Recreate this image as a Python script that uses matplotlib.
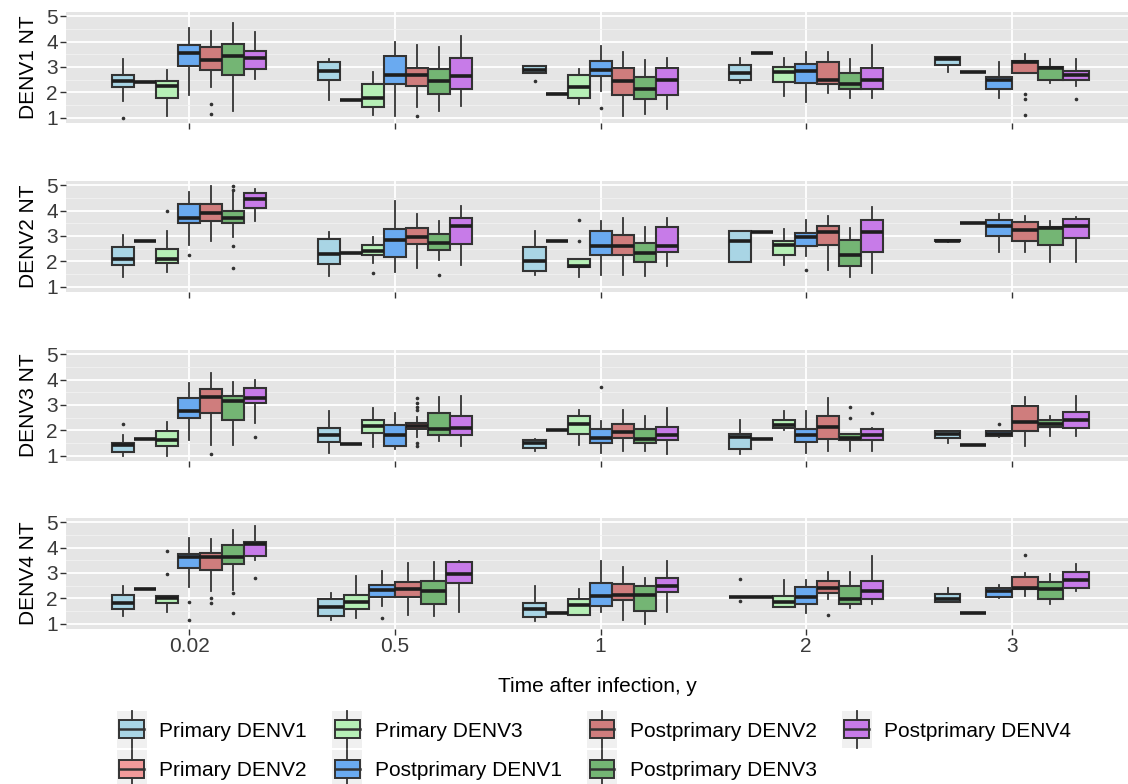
import numpy as np
import matplotlib
matplotlib.use('Agg')
import matplotlib.pyplot as plt
from matplotlib.legend_handler import HandlerBase
from matplotlib.patches import Rectangle, Patch
from matplotlib.lines import Line2D

plt.rcParams['font.family'] = ['Liberation Sans', 'DejaVu Sans']

times = ['0.02', '0.5', '1', '2', '3']
groups = ['Primary DENV1', 'Primary DENV2', 'Primary DENV3',
          'Postprimary DENV1', 'Postprimary DENV2', 'Postprimary DENV3',
          'Postprimary DENV4']
colors = ['#a9d5e5', '#f29a9a', '#b6efb6', '#6aaaf0', '#cf7d7d', '#74b574', '#c77be8']
panel_labels = ['DENV1 NT', 'DENV2 NT', 'DENV3 NT', 'DENV4 NT']

# rows: time index, group index, lower whisker, q1, median, q3, upper whisker
denv1_boxes = [
    [0, 0, 1.68, 2.21, 2.46, 2.69, 3.31],
    [0, 1, 2.41, 2.41, 2.41, 2.41, 2.41],
    [0, 2, 1.09, 1.78, 2.24, 2.46, 2.89],
    [0, 3, 1.91, 3.02, 3.54, 3.87, 4.52],
    [0, 4, 2.21, 2.89, 3.28, 3.78, 4.41],
    [0, 5, 1.26, 2.67, 3.44, 3.89, 4.71],
    [0, 6, 2.54, 2.92, 3.35, 3.63, 4.39],
    [1, 0, 1.72, 2.50, 2.86, 3.21, 3.31],
    [1, 1, 1.69, 1.69, 1.69, 1.69, 1.69],
    [1, 2, 1.13, 1.43, 1.77, 2.34, 2.82],
    [1, 3, 1.09, 2.34, 2.67, 3.44, 3.97],
    [1, 4, 1.43, 2.26, 2.67, 2.97, 3.87],
    [1, 5, 1.29, 1.94, 2.46, 2.92, 3.78],
    [1, 6, 1.46, 2.13, 2.65, 3.35, 4.23],
    [2, 0, 2.78, 2.78, 2.89, 3.02, 3.05],
    [2, 1, 1.95, 1.95, 1.95, 1.95, 1.95],
    [2, 2, 1.54, 1.78, 2.22, 2.69, 2.91],
    [2, 3, 2.06, 2.65, 2.87, 3.24, 3.82],
    [2, 4, 1.08, 1.90, 2.45, 2.97, 3.59],
    [2, 5, 1.14, 1.76, 2.12, 2.62, 3.27],
    [2, 6, 1.34, 1.90, 2.49, 2.95, 3.37],
    [3, 0, 2.36, 2.49, 2.78, 3.08, 3.37],
    [3, 1, 3.54, 3.54, 3.54, 3.54, 3.54],
    [3, 2, 1.86, 2.42, 2.80, 3.00, 3.37],
    [3, 3, 1.63, 2.39, 2.84, 3.13, 3.59],
    [3, 4, 1.99, 2.35, 2.49, 3.20, 3.59],
    [3, 5, 1.77, 2.12, 2.32, 2.75, 3.33],
    [3, 6, 1.77, 2.15, 2.49, 2.97, 3.86],
    [4, 0, 2.82, 3.08, 3.30, 3.39, 3.39],
    [4, 1, 2.80, 2.80, 2.80, 2.80, 2.80],
    [4, 3, 1.77, 2.15, 2.47, 2.62, 3.21],
    [4, 4, 2.78, 2.78, 3.18, 3.25, 3.50],
    [4, 5, 2.39, 2.48, 2.95, 3.01, 3.33],
    [4, 6, 2.25, 2.48, 2.67, 2.84, 3.30],
]
denv1_outliers = [
    [0, 0, 1.0], [0, 4, 1.55], [0, 4, 1.16], [1, 4, 1.09], [2, 0, 2.46],
    [2, 3, 1.39], [4, 4, 1.93], [4, 4, 1.73], [4, 4, 1.10], [4, 6, 1.73],
]

denv2_boxes = [
    [0, 0, 1.39, 1.87, 2.11, 2.55, 3.05],
    [0, 1, 2.81, 2.81, 2.81, 2.81, 2.81],
    [0, 2, 1.59, 1.94, 2.11, 2.50, 3.18],
    [0, 3, 2.65, 3.50, 3.72, 4.26, 4.71],
    [0, 4, 2.82, 3.59, 3.89, 4.24, 4.96],
    [0, 5, 2.95, 3.50, 3.72, 3.98, 4.74],
    [0, 6, 3.59, 4.11, 4.45, 4.67, 4.86],
    [1, 0, 1.44, 1.90, 2.30, 2.89, 3.15],
    [1, 1, 2.33, 2.33, 2.33, 2.33, 2.33],
    [1, 2, 1.94, 2.24, 2.43, 2.63, 2.98],
    [1, 3, 1.59, 2.17, 2.85, 3.27, 4.39],
    [1, 4, 1.74, 2.68, 2.98, 3.31, 3.87],
    [1, 5, 2.04, 2.46, 2.72, 3.09, 3.59],
    [1, 6, 1.87, 2.68, 3.40, 3.70, 4.18],
    [2, 0, 1.46, 1.61, 2.03, 2.55, 3.18],
    [2, 1, 2.82, 2.82, 2.82, 2.82, 2.82],
    [2, 2, 1.39, 1.77, 1.81, 2.11, 2.11],
    [2, 3, 1.48, 2.26, 2.62, 3.20, 3.59],
    [2, 4, 1.48, 2.26, 2.59, 3.05, 3.70],
    [2, 5, 1.44, 1.98, 2.33, 2.72, 3.37],
    [2, 6, 1.81, 2.39, 2.62, 3.37, 3.70],
    [3, 0, 1.98, 1.98, 2.82, 3.18, 3.18],
    [3, 1, 3.14, 3.14, 3.14, 3.14, 3.14],
    [3, 2, 1.87, 2.26, 2.63, 2.81, 3.27],
    [3, 3, 2.22, 2.59, 2.95, 3.11, 3.63],
    [3, 4, 1.65, 2.65, 3.14, 3.40, 3.79],
    [3, 5, 1.39, 1.81, 2.24, 2.85, 3.31],
    [3, 6, 1.55, 2.39, 3.15, 3.63, 4.15],
    [4, 0, 2.78, 2.80, 2.82, 2.84, 2.86],
    [4, 1, 3.50, 3.50, 3.50, 3.50, 3.50],
    [4, 3, 2.39, 3.00, 3.41, 3.61, 3.87],
    [4, 4, 2.37, 2.82, 3.24, 3.53, 3.79],
    [4, 5, 1.98, 2.65, 3.31, 3.37, 3.57],
    [4, 6, 1.98, 2.94, 3.40, 3.67, 3.76],
]
denv2_outliers = [
    [0, 2, 4.0], [0, 3, 2.24], [0, 5, 4.96], [0, 5, 4.82], [0, 5, 2.62],
    [0, 5, 1.74], [1, 2, 1.55], [1, 5, 1.46], [2, 2, 3.63], [2, 2, 2.79],
    [3, 3, 1.68],
]

denv3_boxes = [
    [0, 0, 1.00, 1.16, 1.42, 1.52, 1.81],
    [0, 1, 1.68, 1.68, 1.68, 1.68, 1.68],
    [0, 2, 1.00, 1.39, 1.62, 1.97, 2.34],
    [0, 3, 1.62, 2.50, 2.76, 3.26, 3.85],
    [0, 4, 1.42, 2.67, 3.32, 3.62, 4.24],
    [0, 5, 1.42, 2.43, 3.15, 3.35, 3.89],
    [0, 6, 2.30, 3.06, 3.26, 3.68, 3.98],
    [1, 0, 1.12, 1.55, 1.84, 2.08, 2.76],
    [1, 1, 1.46, 1.46, 1.46, 1.46, 1.46],
    [1, 2, 1.35, 1.90, 2.18, 2.43, 2.90],
    [1, 3, 1.26, 1.39, 1.81, 2.21, 2.67],
    [1, 4, 1.75, 2.04, 2.17, 2.31, 2.51],
    [1, 5, 1.59, 1.84, 2.05, 2.67, 3.32],
    [1, 6, 1.38, 1.84, 2.08, 2.57, 3.36],
    [2, 0, 1.18, 1.33, 1.49, 1.62, 1.66],
    [2, 1, 2.00, 2.00, 2.00, 2.00, 2.00],
    [2, 2, 1.42, 1.88, 2.25, 2.56, 2.82],
    [2, 3, 1.12, 1.52, 1.72, 2.05, 2.38],
    [2, 4, 1.20, 1.72, 1.94, 2.25, 2.80],
    [2, 5, 1.20, 1.51, 1.68, 2.04, 2.57],
    [2, 6, 1.07, 1.62, 1.81, 2.14, 2.89],
    [3, 0, 1.07, 1.29, 1.75, 1.88, 2.43],
    [3, 1, 1.66, 1.66, 1.66, 1.66, 1.66],
    [3, 2, 2.03, 2.11, 2.21, 2.43, 2.77],
    [3, 3, 1.12, 1.55, 1.81, 2.05, 2.77],
    [3, 4, 1.18, 1.68, 2.14, 2.56, 3.26],
    [3, 5, 1.20, 1.62, 1.72, 1.88, 1.88],
    [3, 6, 1.20, 1.64, 1.84, 2.04, 2.10],
    [4, 0, 1.52, 1.72, 1.85, 1.97, 1.97],
    [4, 1, 1.42, 1.42, 1.42, 1.42, 1.42],
    [4, 3, 1.75, 1.77, 1.88, 1.98, 1.98],
    [4, 4, 1.38, 1.98, 2.34, 2.95, 3.30],
    [4, 5, 1.77, 2.14, 2.27, 2.43, 2.56],
    [4, 6, 1.77, 2.08, 2.43, 2.73, 3.35],
]
denv3_outliers = [
    [0, 0, 2.27], [0, 4, 1.09], [0, 6, 1.75], [1, 4, 3.26], [1, 4, 3.09],
    [1, 4, 2.93], [1, 4, 2.80], [1, 4, 1.51], [1, 4, 1.38], [2, 3, 3.71],
    [3, 5, 2.93], [3, 5, 2.47], [3, 6, 2.70], [4, 3, 2.27],
]

denv4_boxes = [
    [0, 0, 1.31, 1.57, 1.83, 2.13, 2.49],
    [0, 1, 2.37, 2.37, 2.37, 2.37, 2.37],
    [0, 2, 1.48, 1.83, 2.00, 2.11, 2.11],
    [0, 3, 2.46, 3.21, 3.63, 3.76, 4.37],
    [0, 4, 2.30, 3.11, 3.63, 3.80, 4.32],
    [0, 5, 2.33, 3.35, 3.63, 4.09, 4.70],
    [0, 6, 3.50, 3.66, 4.13, 4.22, 4.84],
    [1, 0, 1.16, 1.33, 1.68, 1.96, 2.20],
    [1, 2, 1.22, 1.59, 1.85, 2.13, 2.88],
    [1, 3, 1.70, 2.07, 2.33, 2.52, 3.08],
    [1, 4, 1.35, 2.07, 2.39, 2.65, 3.41],
    [1, 5, 1.31, 1.77, 2.29, 2.69, 3.44],
    [1, 6, 1.46, 2.59, 2.98, 3.44, 3.48],
    [2, 0, 1.13, 1.26, 1.57, 1.81, 2.50],
    [2, 1, 1.42, 1.42, 1.42, 1.42, 1.42],
    [2, 2, 1.35, 1.35, 1.74, 1.98, 2.39],
    [2, 3, 1.48, 1.72, 2.11, 2.62, 3.48],
    [2, 4, 1.16, 1.94, 2.13, 2.55, 3.24],
    [2, 5, 1.00, 1.52, 2.13, 2.49, 2.82],
    [2, 6, 1.48, 2.26, 2.49, 2.82, 3.46],
    [3, 0, 2.07, 2.07, 2.07, 2.07, 2.07],
    [3, 1, 2.04, 2.04, 2.04, 2.04, 2.04],
    [3, 2, 1.65, 1.65, 1.87, 2.11, 2.72],
    [3, 3, 1.42, 1.77, 2.07, 2.46, 2.72],
    [3, 4, 1.98, 2.20, 2.43, 2.69, 3.04],
    [3, 5, 1.64, 1.77, 1.96, 2.49, 3.04],
    [3, 6, 1.78, 1.98, 2.30, 2.68, 3.66],
    [4, 0, 1.85, 1.85, 1.98, 2.17, 2.43],
    [4, 1, 1.44, 1.44, 1.44, 1.44, 1.44],
    [4, 3, 2.03, 2.07, 2.30, 2.43, 2.52],
    [4, 4, 2.11, 2.36, 2.43, 2.85, 3.01],
    [4, 5, 1.78, 1.98, 2.36, 2.65, 2.95],
    [4, 6, 2.30, 2.43, 2.72, 3.05, 3.37],
]
denv4_outliers = [
    [0, 2, 3.87], [0, 2, 2.95], [0, 3, 1.87], [0, 3, 1.16], [0, 4, 2.03],
    [0, 4, 1.83], [0, 5, 2.20], [0, 5, 1.44], [0, 6, 2.82], [1, 3, 1.22],
    [3, 0, 2.76], [3, 0, 1.90], [3, 4, 1.35], [4, 4, 3.70],
]

all_boxes = [denv1_boxes, denv2_boxes, denv3_boxes, denv4_boxes]
all_outliers = [denv1_outliers, denv2_outliers, denv3_outliers, denv4_outliers]

EDGE = '#333333'
DODGE = 0.75


class BoxKey(HandlerBase):
    # ggplot-like boxplot legend key, drawn taller than the handle box
    def create_artists(self, legend, orig_handle, x0, y0, width, height, fontsize, trans):
        kh = fontsize * 1.8
        cy = y0 + height / 2
        ky = cy - kh / 2
        bg = Rectangle((x0, ky), width, kh, facecolor='#f0f0f0',
                       edgecolor='none', transform=trans)
        bw, bh = width * 0.82, kh * 0.48
        bx, by = x0 + (width - bw) / 2, cy - bh / 2
        box = Rectangle((bx, by), bw, bh, facecolor=orig_handle.get_facecolor(),
                        edgecolor=EDGE, lw=1.4, transform=trans)
        cx = x0 + width / 2
        w1 = Line2D([cx, cx], [ky, by], color=EDGE, lw=1.3, transform=trans)
        w2 = Line2D([cx, cx], [by + bh, ky + kh], color=EDGE, lw=1.3, transform=trans)
        med = Line2D([bx, bx + bw], [cy, cy], color=EDGE, lw=1.8, transform=trans)
        return [bg, box, w1, w2, med]


fig = plt.figure(figsize=(11.28, 7.84), dpi=100)

panel_tops = [12, 181, 350, 518]
panel_h = 111
left_px, right_px = 66, 1128

for p in range(4):
    top = panel_tops[p]
    ax = fig.add_axes([left_px / 1128, 1 - (top + panel_h) / 784,
                       (right_px - left_px) / 1128, panel_h / 784])
    ax.set_facecolor('#e5e5e5')
    for s in ax.spines.values():
        s.set_visible(False)

    rows = all_boxes[p]
    outs = all_outliers[p]
    stats, positions, widths, cols = [], [], [], []
    for t in range(len(times)):
        present = [r for r in rows if r[0] == t]
        present.sort(key=lambda r: r[1])
        n = len(present)
        w = DODGE / n
        for i, r in enumerate(present):
            fl = [o[2] for o in outs if o[0] == t and o[1] == r[1]]
            stats.append(dict(whislo=r[2], q1=r[3], med=r[4], q3=r[5],
                              whishi=r[6], fliers=fl))
            positions.append(t + 1 + (i - (n - 1) / 2) * w)
            widths.append(w)
            cols.append(colors[r[1]])

    bp = ax.bxp(stats, positions=positions, widths=widths, patch_artist=True,
                showcaps=False, manage_ticks=False,
                boxprops=dict(edgecolor=EDGE, linewidth=1.5),
                whiskerprops=dict(color=EDGE, linewidth=1.3),
                medianprops=dict(color='#1e1e1e', linewidth=2.6),
                flierprops=dict(marker='o', markersize=1.6, markerfacecolor=EDGE,
                                markeredgecolor=EDGE, linestyle='none'))
    for patch, c in zip(bp['boxes'], cols):
        patch.set_facecolor(c)

    ax.set_xlim(0.4, 5.565)
    ax.set_ylim(0.8, 5.16)
    ax.set_yticks([1, 2, 3, 4, 5])
    ax.set_yticks([1.5, 2.5, 3.5, 4.5], minor=True)
    ax.set_xticks(range(1, 6))
    ax.grid(True, which='major', color='white', linewidth=1.3)
    ax.grid(True, which='minor', axis='y', color='#f2f2f2', linewidth=0.6)
    ax.set_axisbelow(True)
    ax.tick_params(axis='both', which='major', length=4, width=1, color=EDGE,
                   labelsize=15, labelcolor='#3a3a3a', pad=2)
    ax.tick_params(axis='y', which='minor', length=0)
    ax.set_ylabel(panel_labels[p], fontsize=15, labelpad=6)
    if p == 3:
        ax.set_xticklabels(times)
        ax.set_xlabel('Time after infection, y', fontsize=15, labelpad=15)
    else:
        ax.set_xticklabels([])

handles = [Patch(facecolor=c) for c in colors]
fig.legend(handles, groups, ncol=4, loc='center', bbox_to_anchor=(594 / 1128, 1 - 751 / 784),
           frameon=False, fontsize=15, handler_map={Patch: BoxKey()},
           handlelength=1.45, handleheight=0.7, handletextpad=0.6,
           labelspacing=1.0, columnspacing=1.2)

fig.savefig('out.png', dpi=100)
